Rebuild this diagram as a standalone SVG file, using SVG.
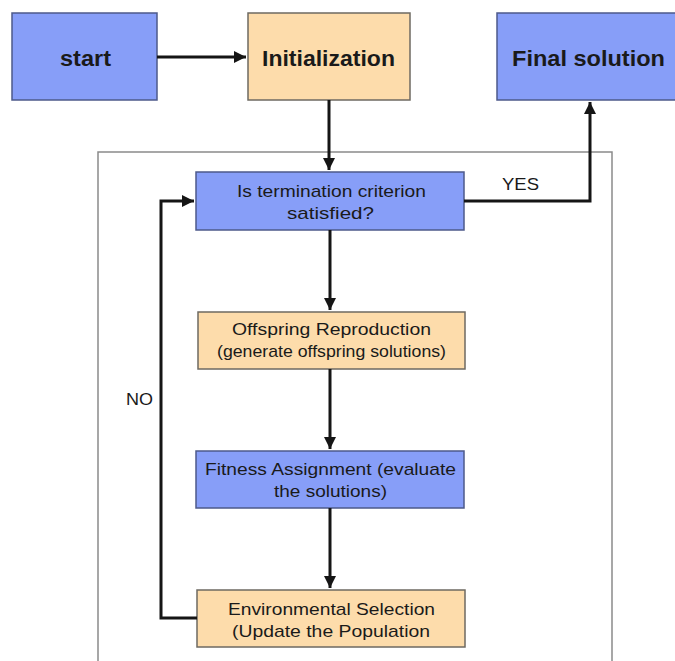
<svg xmlns="http://www.w3.org/2000/svg" width="675" height="661" viewBox="0 0 675 661">
<defs>
<style>
.blue{fill:#879ef8;stroke:#4d5a8a;stroke-width:1.5}
.peach{fill:#fddcab;stroke:#6e6a62;stroke-width:1.5}
.big{font-family:"Liberation Sans",Arial,sans-serif;font-weight:bold;font-size:22px;fill:#1a1a1a;text-anchor:middle}
.t{font-family:"Liberation Sans",Arial,sans-serif;font-size:17px;fill:#1a1a1a;text-anchor:middle}
.lbl{font-family:"Liberation Sans",Arial,sans-serif;font-size:17px;fill:#1a1a1a}
.c{fill:none;stroke:#151515;stroke-width:3}
</style>
<marker id="ah" viewBox="0 0 10 10" refX="10" refY="5" markerWidth="4" markerHeight="4" markerUnits="strokeWidth" orient="auto">
<path d="M0,0 L10,5 L0,10 z" fill="#151515"/>
</marker>
</defs>
<rect width="675" height="661" fill="#ffffff"/>
<rect id="frame" x="98" y="152" width="514" height="520" fill="none" stroke="#8a8a8a" stroke-width="1.5"/>
<g id="start"><rect class="blue" x="12" y="13" width="145" height="87"/><text class="big" x="85.5" y="66" textLength="51" lengthAdjust="spacingAndGlyphs">start</text></g>
<g id="init"><rect class="peach" x="248" y="13" width="162" height="87"/><text class="big" x="328.5" y="66" textLength="133" lengthAdjust="spacingAndGlyphs">Initialization</text></g>
<g id="final"><rect class="blue" x="497" y="13" width="185" height="87"/><text class="big" x="588.5" y="66" textLength="153" lengthAdjust="spacingAndGlyphs">Final solution</text></g>
<g id="term"><rect class="blue" x="196" y="172" width="268" height="58"/><text class="t" x="331.5" y="197" textLength="189" lengthAdjust="spacingAndGlyphs">Is termination criterion</text><text class="t" x="330.5" y="219" textLength="87" lengthAdjust="spacingAndGlyphs">satisfied?</text></g>
<g id="offspring"><rect class="peach" x="198" y="312" width="267" height="57"/><text class="t" x="331.5" y="335" textLength="199" lengthAdjust="spacingAndGlyphs">Offspring Reproduction</text><text class="t" x="331.5" y="357" textLength="229" lengthAdjust="spacingAndGlyphs">(generate offspring solutions)</text></g>
<g id="fitness"><rect class="blue" x="196" y="451" width="268" height="57"/><text class="t" x="330.5" y="475" textLength="251" lengthAdjust="spacingAndGlyphs">Fitness Assignment (evaluate</text><text class="t" x="330.5" y="497" textLength="113" lengthAdjust="spacingAndGlyphs">the solutions)</text></g>
<g id="env"><rect class="peach" x="197" y="590" width="268" height="57"/><text class="t" x="331.5" y="615" textLength="207" lengthAdjust="spacingAndGlyphs">Environmental Selection</text><text class="t" x="331" y="637" textLength="198" lengthAdjust="spacingAndGlyphs">(Update the Population</text></g>
<g id="connectors">
<path class="c" d="M157,57 H246" marker-end="url(#ah)"/>
<path class="c" d="M329,100 V170" marker-end="url(#ah)"/>
<path class="c" d="M464,201 H590 V102" marker-end="url(#ah)"/>
<path class="c" d="M330,230 V310" marker-end="url(#ah)"/>
<path class="c" d="M330,369 V449" marker-end="url(#ah)"/>
<path class="c" d="M330,508 V588" marker-end="url(#ah)"/>
<path class="c" d="M197,618 H161 V201 H194" marker-end="url(#ah)"/>
<text class="lbl" x="502" y="190" textLength="37" lengthAdjust="spacingAndGlyphs">YES</text>
<text class="lbl" x="126" y="405" textLength="27" lengthAdjust="spacingAndGlyphs">NO</text>
</g>
</svg>
